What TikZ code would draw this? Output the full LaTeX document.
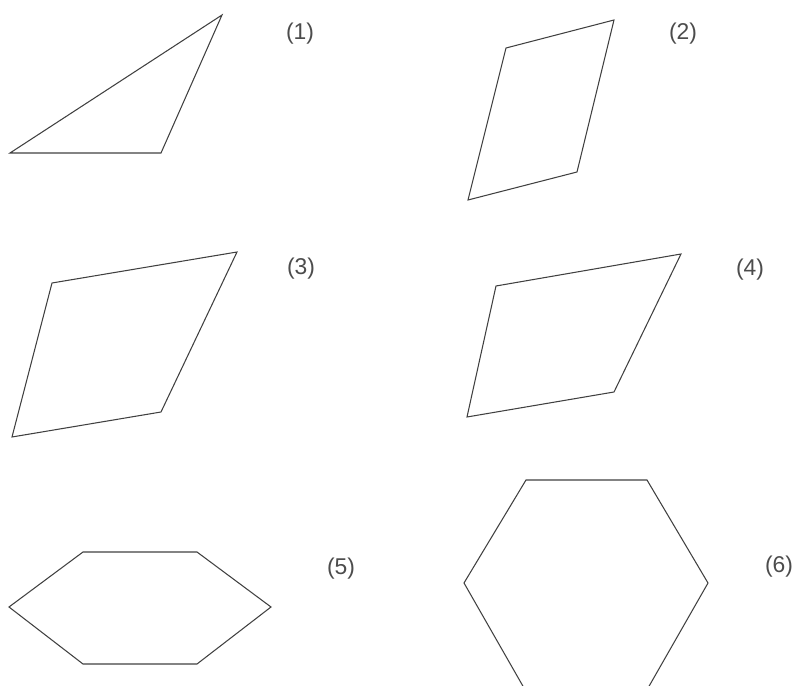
\documentclass[tikz,border=0pt]{standalone}
\usepackage{fontspec}
\setmainfont{Liberation Sans}
\begin{document}
\begin{tikzpicture}[
  x=0.02cm, y=-0.02cm,
  outline/.style={draw=black!75, line width=0.6pt, line join=miter},
  tag/.style={font=\fontsize{13}{15}\selectfont, text=black!70, inner sep=0pt}
]
\useasboundingbox (0,0) rectangle (796,686);
% (1) triangle
\draw[outline] (10,153) -- (161,153) -- (222,15) -- cycle;
\node[tag] (t1) at (300,34) {(1)};
% (2) parallelogram
\draw[outline] (506,48) -- (614,20) -- (577,172) -- (468,200) -- cycle;
\node[tag] (t2) at (683,34) {(2)};
% (3) parallelogram
\draw[outline] (52,283) -- (237,252) -- (161,412) -- (12,437) -- cycle;
\node[tag] (t3) at (301,269) {(3)};
% (4) parallelogram
\draw[outline] (496,286) -- (681,254) -- (614,392) -- (467,417) -- cycle;
\node[tag] (t4) at (750,270) {(4)};
% (5) flat hexagon
\draw[outline] (83,552) -- (197,552) -- (271,607) -- (197,664) -- (83,664) -- (9,607) -- cycle;
\node[tag] (t5) at (341,569) {(5)};
% (6) hexagon, cut at the bottom
\begin{scope}
  \clip (0,0) rectangle (796,686);
  \draw[outline] (526,480) -- (647,480) -- (708,583) -- (648,688) -- (524,688) -- (464,583) -- cycle;
\end{scope}
\node[tag] (t6) at (779,567) {(6)};
\end{tikzpicture}
\end{document}
